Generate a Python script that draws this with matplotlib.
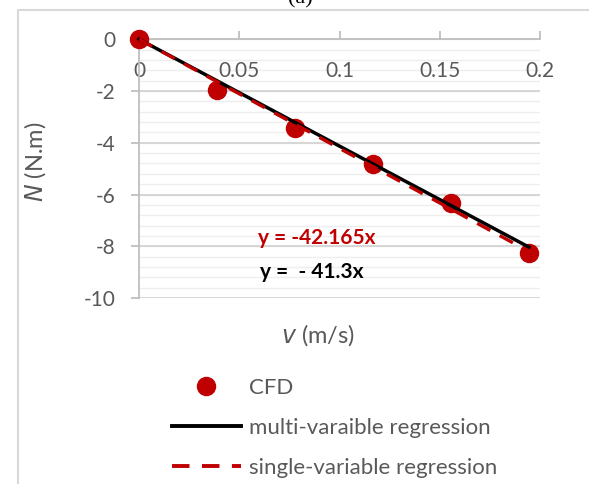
import matplotlib
matplotlib.use("Agg")
import matplotlib.pyplot as plt
import numpy as np
from matplotlib.patches import Rectangle
from matplotlib.lines import Line2D

plt.rcParams["font.family"] = ["Lato", "DejaVu Sans"]
plt.rcParams["axes.unicode_minus"] = False

# CFD data: surge speed (m/s) vs moment N (N.m)
v_cfd = [0.0, 0.0389, 0.0778, 0.1167, 0.1556, 0.1944]
n_cfd = [0.0, -1.97, -3.43, -4.82, -6.33, -8.25]

# regression slopes
slope_single = -42.165
slope_multi = -41.3
v_fit = [0.0, 0.1944]

x_ticks = [0, 0.05, 0.1, 0.15, 0.2]
x_tick_labels = ["0", "0.05", "0.1", "0.15", "0.2"]
y_ticks = [0, -2, -4, -6, -8, -10]

red = "#c00000"
gray = "#595959"

fig = plt.figure(figsize=(5.89, 4.84), dpi=100)
ax = fig.add_axes([0.236, 0.384, 0.681, 0.535])

# outer chart frame
fig.patches.append(Rectangle((18 / 589, -0.2), 1.2, 1.2 - 10 / 484,
                             transform=fig.transFigure, fill=False,
                             edgecolor="#d9d9d9", lw=1.5, clip_on=False))

ax.set_xlim(0, 0.2)
ax.set_ylim(-10, 0)

# gridlines
for yv in np.arange(-10, 0.01, 0.4):
    ax.axhline(yv, color="#eeeeee", lw=1.0, zorder=0)
for yv in y_ticks:
    ax.axhline(yv, color="#d4d4d4", lw=1.3, zorder=0.5)

vf = np.array(v_fit)
ax.plot(v_cfd, n_cfd, "o", color=red, ms=13, zorder=3, clip_on=False)
ax.plot(vf, slope_multi * vf, color="black", lw=2.5, zorder=4, clip_on=False)
ax.plot(vf, slope_single * vf, color=red, lw=2.4, dashes=(4.5, 3.2), zorder=5,
        clip_on=False)

for s in ["top", "right"]:
    ax.spines[s].set_visible(False)
ax.spines["bottom"].set_position(("data", 0))
ax.spines["bottom"].set_color("#bfbfbf")
ax.spines["left"].set_color("#bfbfbf")
ax.spines["bottom"].set_linewidth(1.3)
ax.spines["left"].set_linewidth(1.3)
ax.spines["bottom"].set_zorder(1)

ax.set_xticks(x_ticks)
ax.set_xticklabels(x_tick_labels)
ax.set_yticks(y_ticks)
ax.tick_params(axis="x", direction="in", length=6, width=1.3, color="#bfbfbf",
               pad=16, labelsize=15, labelcolor=gray)
ax.tick_params(axis="y", direction="out", length=6, width=1.3, color="#bfbfbf",
               pad=11, labelsize=15, labelcolor=gray)

ax.text(0.0888, -7.68, "y = -42.165x", color=red, fontsize=15,
        fontweight="bold", ha="center", va="center")
ax.text(0.0862, -9.0, "y =  - 41.3x", color="black", fontsize=15,
        fontweight="bold", ha="center", va="center")

fig.text(35 / 589, 1 - 162 / 484, "$\\it{N}$ (N.m)", rotation=90, color=gray,
         fontsize=17, ha="center", va="center")
fig.text(318 / 589, 1 - 335 / 484, "$\\it{v}$ (m/s)", color=gray,
         fontsize=17, ha="center", va="center")
fig.text(300 / 589, 1 - 8 / 484, "(a)", family="Liberation Serif", fontsize=16,
         ha="center", va="bottom")

handles = [
    Line2D([], [], ls="none", marker="o", color=red, ms=13),
    Line2D([], [], color="black", lw=2.8),
    Line2D([], [], color=red, lw=2.8, dashes=(4.5, 3.2)),
]
labels = ["CFD", "multi-varaible regression", "single-variable regression"]
fig.legend(handles, labels, loc="upper left",
           bbox_to_anchor=(172 / 589, 1 - 378 / 484), frameon=False,
           fontsize=16, labelcolor=gray, handlelength=3.1, handletextpad=0.35,
           labelspacing=0.9, borderpad=0, borderaxespad=0)

fig.savefig("out.png", dpi=100)
